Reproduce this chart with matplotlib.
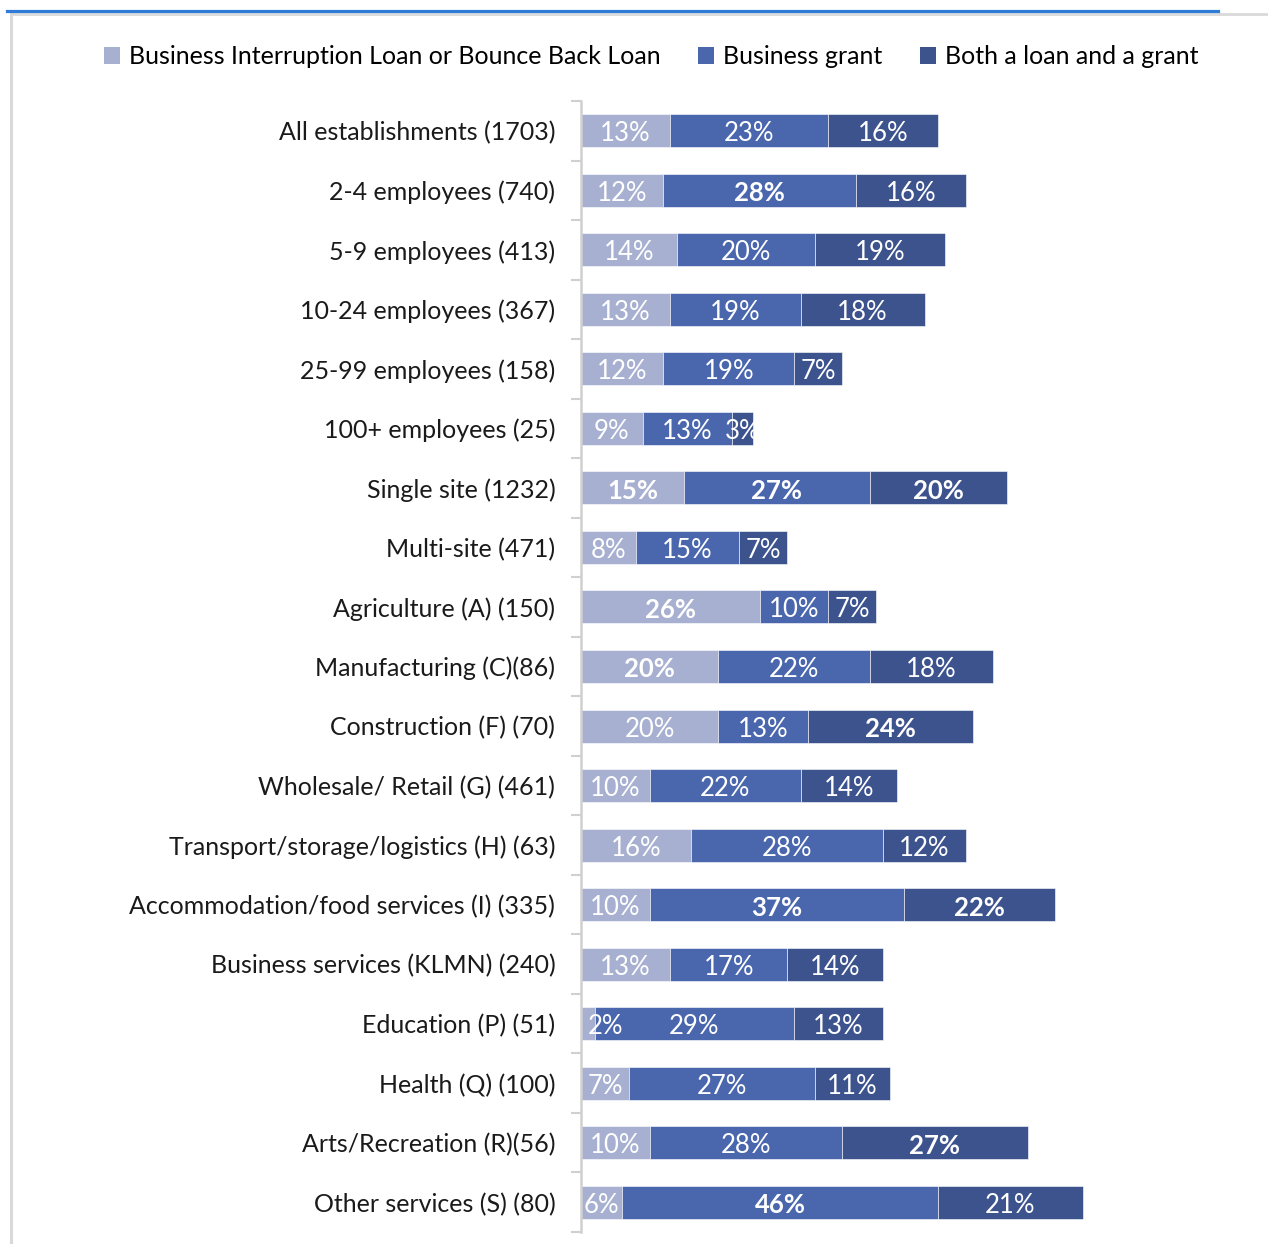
import matplotlib
matplotlib.use("Agg")
import matplotlib.pyplot as plt
from matplotlib.lines import Line2D
from matplotlib.patches import Rectangle, Patch
import numpy as np

plt.rcParams['font.family'] = ['Lato', 'DejaVu Sans']

categories = [
    "All establishments (1703)",
    "2-4 employees (740)",
    "5-9 employees (413)",
    "10-24 employees (367)",
    "25-99 employees (158)",
    "100+ employees (25)",
    "Single site (1232)",
    "Multi-site (471)",
    "Agriculture (A) (150)",
    "Manufacturing (C)(86)",
    "Construction (F) (70)",
    "Wholesale/ Retail (G) (461)",
    "Transport/storage/logistics (H) (63)",
    "Accommodation/food services (I) (335)",
    "Business services (KLMN) (240)",
    "Education (P) (51)",
    "Health (Q) (100)",
    "Arts/Recreation (R)(56)",
    "Other services (S) (80)",
]

series_names = [
    "Business Interruption Loan or Bounce Back Loan",
    "Business grant",
    "Both a loan and a grant",
]

loan = [13, 12, 14, 13, 12, 9, 15, 8, 26, 20, 20, 10, 16, 10, 13, 2, 7, 10, 6]
grant = [23, 28, 20, 19, 19, 13, 27, 15, 10, 22, 13, 22, 28, 37, 17, 29, 27, 28, 46]
both = [16, 16, 19, 18, 7, 3, 20, 7, 7, 18, 24, 14, 12, 22, 14, 13, 11, 27, 21]

# labels shown in bold (row index, series index)
bold_labels = {(1, 1), (6, 0), (6, 1), (6, 2), (8, 0), (9, 0), (10, 2),
               (13, 1), (13, 2), (17, 2), (18, 1)}

colors = ["#a7b0d0", "#4a67ae", "#3d538e"]

W, H = 1268, 1244
fig = plt.figure(figsize=(W / 100, H / 100), dpi=100)

# plot area in pixels
left_px, top_px, bottom_px = 581, 101, 1232
xmax = 90
px_per_unit = 6.87
width_px = xmax * px_per_unit
ax = fig.add_axes([left_px / W, 1 - bottom_px / H, width_px / W, (bottom_px - top_px) / H])

y = np.arange(len(categories))
data = [loan, grant, both]
lefts = np.zeros(len(categories))
bar_h = 0.555
containers = []
for vals, col, name in zip(data, colors, series_names):
    c = ax.barh(y, vals, left=lefts, height=bar_h, color=col, label=name,
                edgecolor="white", linewidth=0.4)
    containers.append(c)
    lefts = lefts + np.array(vals)

ax.set_xlim(0, xmax)
ax.set_ylim(len(categories) - 0.5, -0.5)

# label each segment, clipped to its row's stacked extent
totals = lefts
for s, (vals, c) in enumerate(zip(data, containers)):
    start = np.zeros(len(categories)) if s == 0 else np.sum(data[:s], axis=0)
    for i, v in enumerate(vals):
        if v < 4 and s == 0:
            xpos, ha = start[i] + 1.0, "left"
        else:
            xpos, ha = start[i] + v / 2, "center"
        t = ax.text(xpos, i + 0.05, f"{v}%", ha=ha, va="center", color="white",
                    fontsize=18.5, fontweight="bold" if (i, s) in bold_labels else "normal")
        clip = Rectangle((0, i - bar_h / 2), totals[i], bar_h, transform=ax.transData)
        t.set_clip_path(clip)

ax.set_yticks(y)
ax.set_yticklabels(categories, fontsize=18, color="#1a1a1a")
ax.set_yticks(np.arange(-0.5, len(categories)), minor=True)
ax.tick_params(axis="y", which="major", length=0, pad=18.5)
ax.tick_params(axis="y", which="minor", length=7, width=1.5, color="#d0d0d0")
ax.set_xticks([])
for side in ["top", "right", "bottom"]:
    ax.spines[side].set_visible(False)
ax.spines["left"].set_color("#d0d0d0")
ax.spines["left"].set_linewidth(1.8)

handles = [Patch(facecolor=c, edgecolor="none") for c in colors]
fig.legend(handles, series_names, loc="center", bbox_to_anchor=(651 / W, 1 - 57 / H),
           ncol=3, frameon=False, fontsize=18, handlelength=0.65, handleheight=0.65,
           handletextpad=0.35, columnspacing=1.5)

# frame: blue top rule and light grey border
fig.add_artist(Line2D([11 / W, 1], [1 - 13.5 / H, 1 - 13.5 / H], color="#d9d9d9",
                      linewidth=2, transform=fig.transFigure))
fig.add_artist(Line2D([11 / W, 11 / W], [0, 1 - 13.5 / H], color="#d9d9d9",
                      linewidth=2.2, transform=fig.transFigure))
fig.add_artist(Line2D([7 / W, 1218 / W], [1 - 10.5 / H, 1 - 10.5 / H], color="#2f7bd8",
                      linewidth=2.3, transform=fig.transFigure))

fig.savefig("out.png", dpi=100)
